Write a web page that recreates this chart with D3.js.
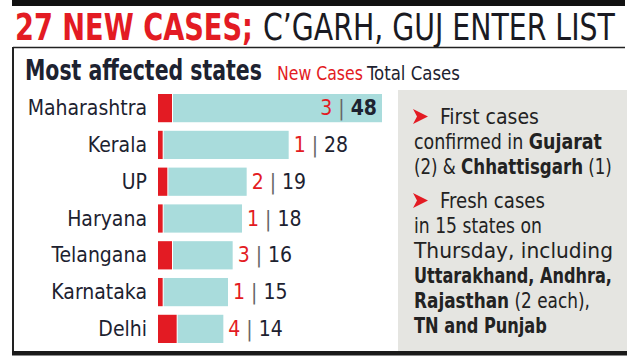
<!DOCTYPE html>
<html><head><meta charset="utf-8">
<script src="https://cdn.jsdelivr.net/npm/d3@7"></script>
<style>body{margin:0;background:#fff} svg{display:block}</style>
</head><body>
<script>
// ---- data ----
const states = ["Maharashtra","Kerala","UP","Haryana","Telangana","Karnataka","Delhi"];
const newCases = [3,1,2,1,3,1,4];
const totalCases = [48,28,19,18,16,15,14];
const titleRed = "27 NEW CASES;";
const titleBlack = "C\u2019GARH, GUJ ENTER LIST";
const subtitle = "Most affected states";
const legendLabels = ["New Cases","Total Cases"];
// notes: each line is a list of [text, bold]
const notes1 = [
  [["First cases",false]],
  [["confirmed in ",false],["Gujarat",true]],
  [["(2) & ",false],["Chhattisgarh",true],[" (1)",false]]
];
const notes2 = [
  [["Fresh cases",false]],
  [["in 15 states on",false]],
  [["Thursday, including",false]],
  [["Uttarakhand, Andhra,",true]],
  [["Rajasthan",true],[" (2 each),",false]],
  [["TN and Punjab",true]]
];

// ---- layout ----
const W = 635, H = 360;
const FONT = "'Liberation Sans Narrow','DejaVu Sans Condensed','Roboto Condensed','Arial Narrow','DejaVu Sans',sans-serif";
const RED = "#e31b23", TEAL = "#a9dcdc", DARK = "#1d2230";
const notes1Widths = [99, 188, 198];
const notes2Widths = [105, 128, 199, 198, 176, 133];

const svg = d3.select("body").append("svg").attr("width", W).attr("height", H)
  .style("font-family", FONT);

// place a text at (x, y) baseline-left, horizontally scaled to the target width
function fit(sel, x, y, target) {
  sel.attr("x", 0).attr("y", 0);
  const w = sel.node().getComputedTextLength();
  sel.attr("transform", `translate(${x},${y}) scale(${target / w},1)`);
  return sel;
}

// top black strip
svg.append("rect").attr("x", 12).attr("y", 0).attr("width", 613).attr("height", 6).attr("fill", "#111");

// title
fit(svg.append("text").attr("font-size", 37).attr("font-weight", "bold").attr("fill", RED).text(titleRed), 15, 40, 238);
fit(svg.append("text").attr("font-size", 37).attr("fill", "#1a1a22").text(titleBlack), 263, 40, 352);

// frame
svg.append("line").attr("x1", 13).attr("x2", 625).attr("y1", 47.5).attr("y2", 47.5).attr("stroke", "#222").attr("stroke-width", 1.5);
svg.append("line").attr("x1", 13).attr("x2", 13).attr("y1", 47).attr("y2", 352).attr("stroke", "#222").attr("stroke-width", 2);

// right notes panel
svg.append("rect").attr("x", 398).attr("y", 90).attr("width", 229).attr("height", 262).attr("fill", "#e5e5e1");

// bottom thick rule
svg.append("rect").attr("x", 12).attr("y", 351).attr("width", 615).attr("height", 4.5).attr("fill", "#1a1a1a");

// subtitle + legend
fit(svg.append("text").attr("font-size", 29).attr("font-weight", "bold").attr("fill", DARK).text(subtitle), 25, 80, 237);
fit(svg.append("text").attr("font-size", 20).attr("fill", RED).text(legendLabels[0]), 277, 80, 86);
fit(svg.append("text").attr("font-size", 20).attr("fill", DARK).text(legendLabels[1]), 367, 80, 93);

// scales
const x = d3.scaleLinear().domain([0, d3.max(totalCases)]).range([158, 382]);
const y = d3.scaleBand().domain(states).range([94, 343]).paddingInner(0.233).paddingOuter(0);

const data = states.map((s, i) => ({ s, n: newCases[i], t: totalCases[i] }));
const rows = svg.append("g").selectAll("g").data(data).join("g");

rows.append("rect").attr("x", d => x(d.n) + 1).attr("y", d => y(d.s))
  .attr("width", d => x(d.t) - x(d.n) - 1).attr("height", y.bandwidth()).attr("fill", TEAL);
rows.append("rect").attr("x", x(0)).attr("y", d => y(d.s))
  .attr("width", d => x(d.n) - x(0)).attr("height", y.bandwidth()).attr("fill", RED);

rows.append("text").attr("x", 147).attr("y", d => y(d.s) + y.bandwidth() / 2 + 7)
  .attr("text-anchor", "end").attr("font-size", 21).attr("fill", DARK).text(d => d.s);

const maxT = d3.max(totalCases);
const vl = rows.append("text")
  .attr("x", d => d.t === maxT ? x(d.t) - 5 : x(d.t) + 5)
  .attr("text-anchor", d => d.t === maxT ? "end" : "start")
  .attr("y", d => y(d.s) + y.bandwidth() / 2 + 7)
  .attr("font-size", 21);
vl.append("tspan").attr("fill", RED).text(d => d.n);
vl.append("tspan").attr("fill", "#666").text(" | ");
vl.append("tspan").attr("fill", DARK).attr("font-weight", d => d.t === maxT ? "bold" : "normal").text(d => d.t);

// notes
function arrow(yb) {
  svg.append("path").attr("d", `M413,${yb-15} L428,${yb-7.5} L413,${yb} L417,${yb-7.5} Z`).attr("fill", RED);
}
function writeLines(lines, widths, y0, firstIndent) {
  lines.forEach((line, i) => {
    const t = svg.append("text").attr("font-size", 21).attr("fill", "#222");
    line.forEach(([txt, b]) => t.append("tspan").attr("font-weight", b ? "bold" : "normal").text(txt));
    fit(t, i === 0 ? firstIndent : 414, y0 + i * 25, widths[i]);
  });
}
arrow(124);
writeLines(notes1, notes1Widths, 124, 440);
arrow(208);
writeLines(notes2, notes2Widths, 208, 440);
</script>
</body></html>
